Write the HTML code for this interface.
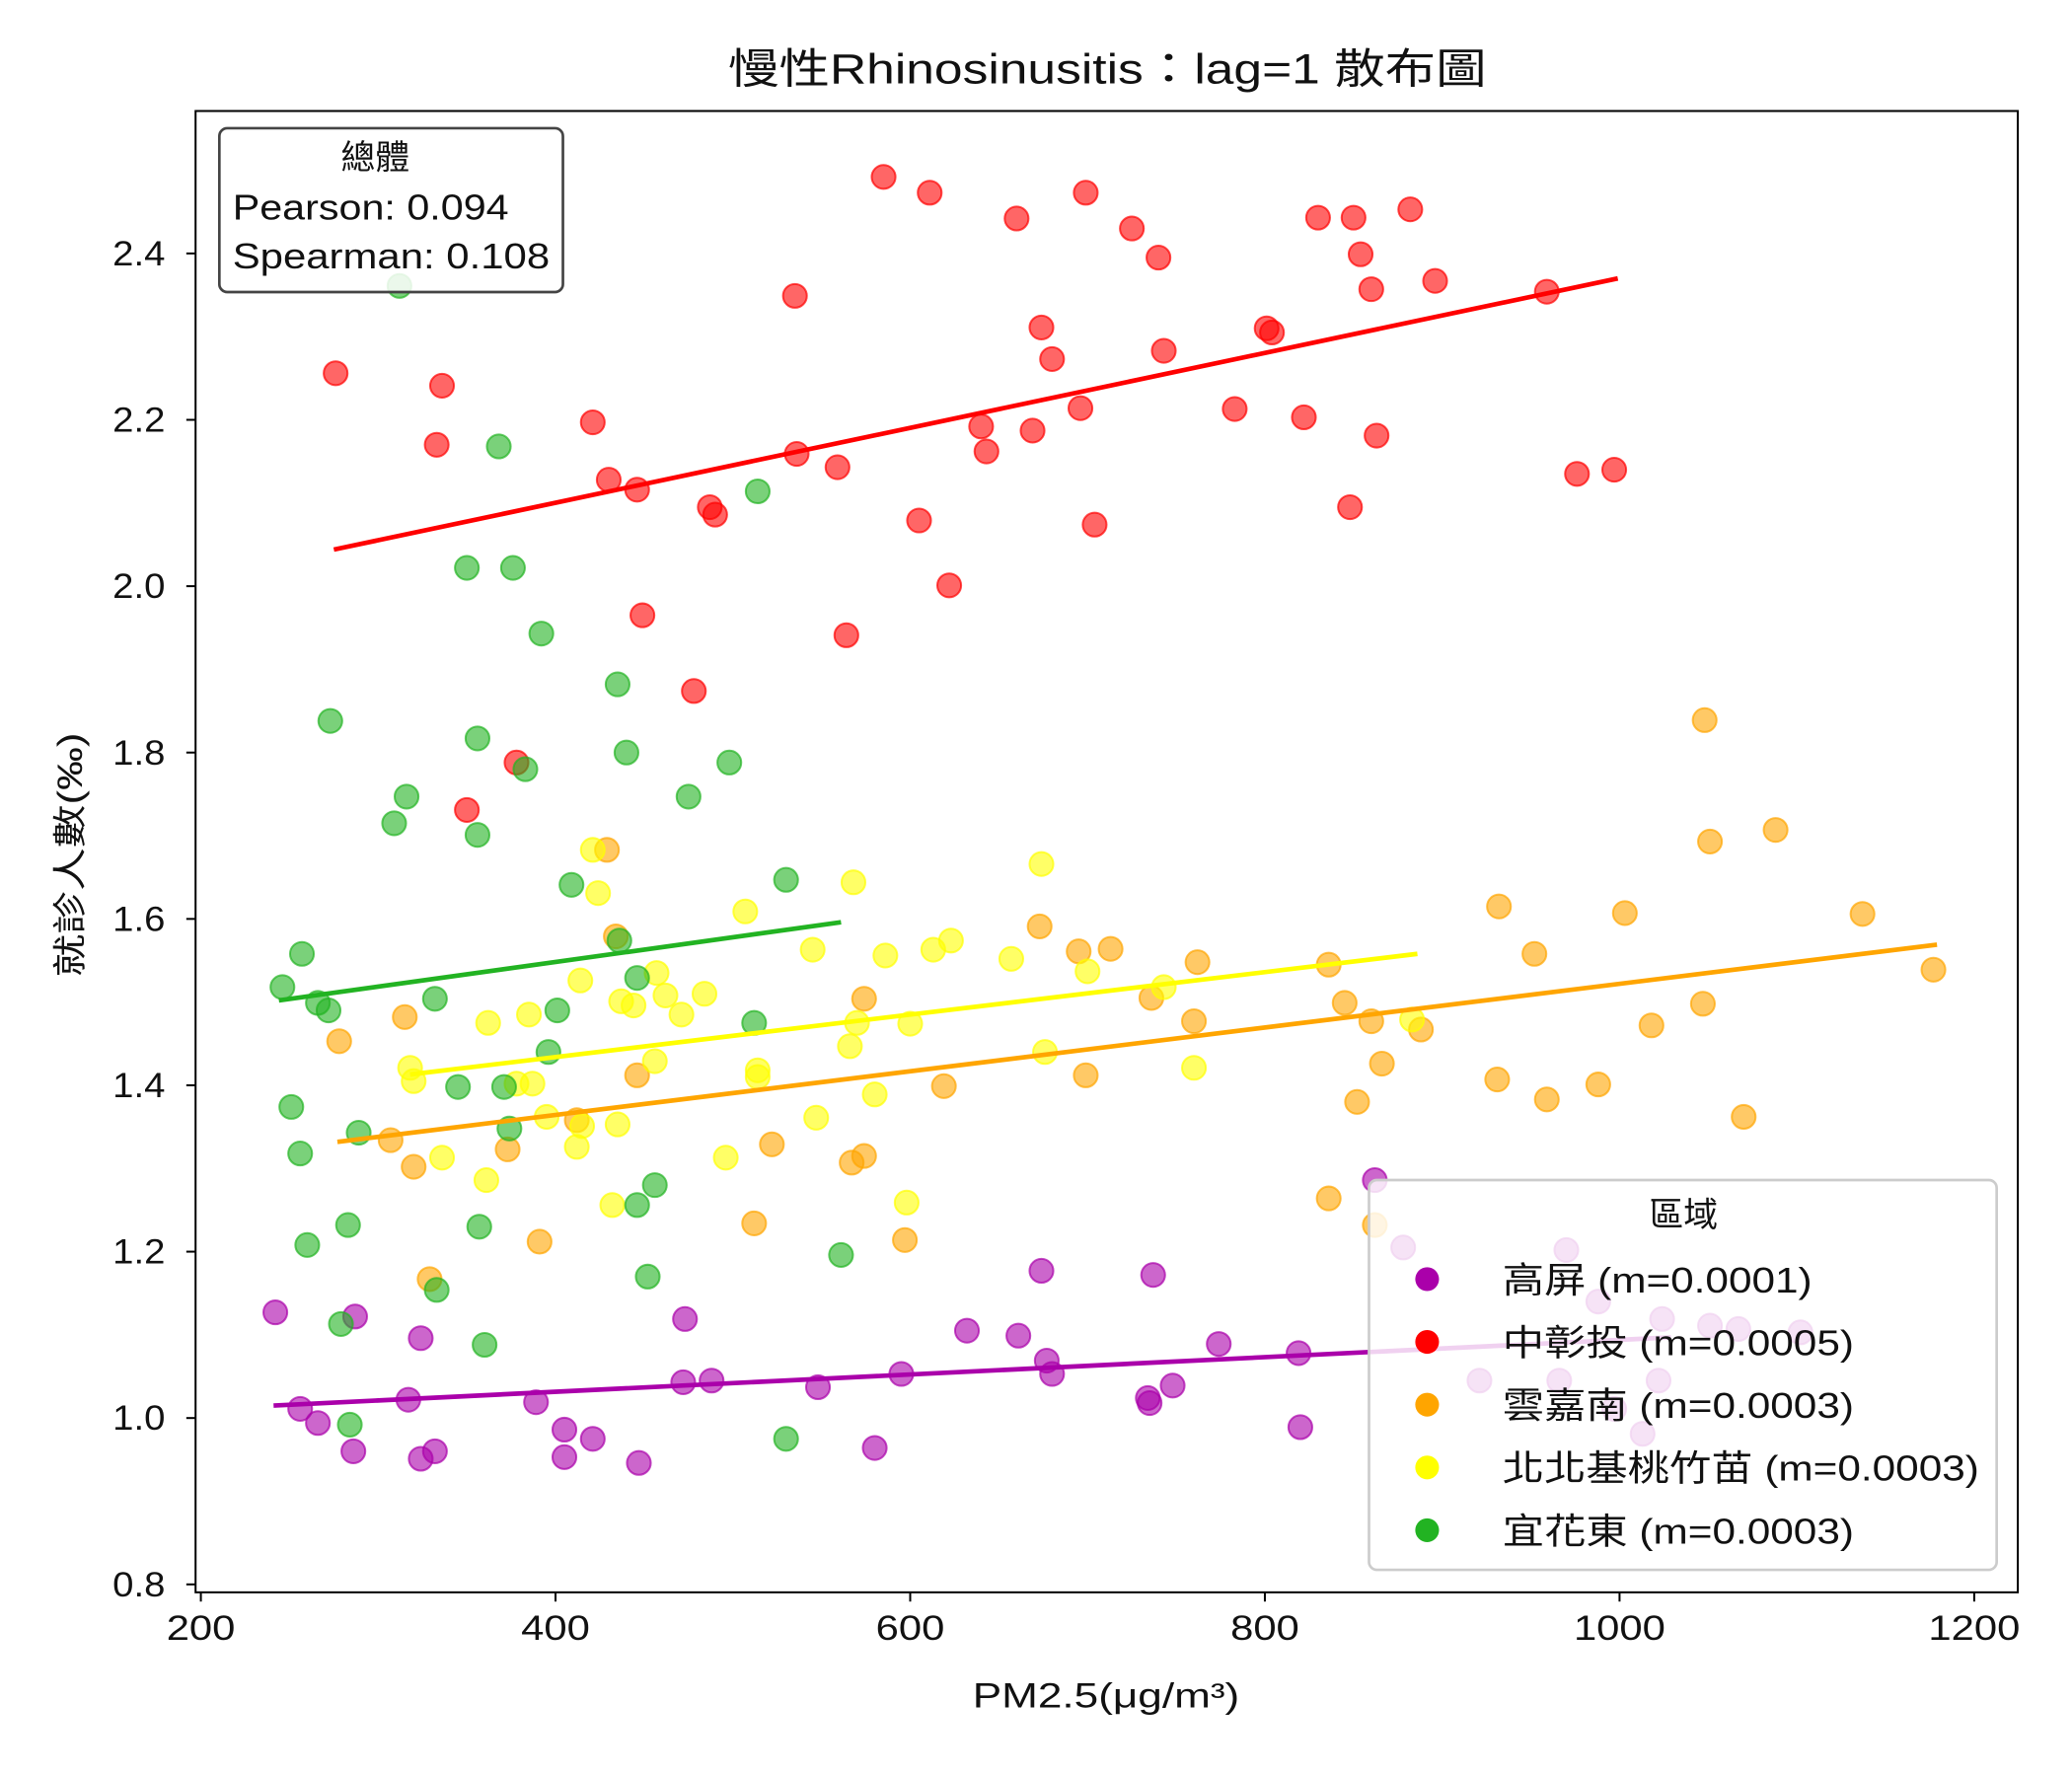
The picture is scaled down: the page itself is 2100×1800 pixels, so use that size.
<!DOCTYPE html>
<html><head><meta charset="utf-8"><style>
html,body{margin:0;padding:0;background:#fff}
svg{display:block}
text{font-family:"Liberation Sans","Noto Sans CJK TC",sans-serif;fill:#111}
</style></head><body>
<svg id="chart" width="2100" height="1800" viewBox="0 0 1568 1344" preserveAspectRatio="none" xmlns="http://www.w3.org/2000/svg">
<rect x="0" y="0" width="1568" height="1344" fill="#fff"/>
<text x="838" y="63" font-size="32" text-anchor="middle" textLength="574" lengthAdjust="spacingAndGlyphs">慢性Rhinosinusitis：lag=1 散布圖</text>
<g id="marks"></g>
<rect x="148" y="84" width="1379" height="1121" fill="none" stroke="#000" stroke-width="1.5"/>
<g id="axes"></g>
<text x="837" y="1292" font-size="26" text-anchor="middle" textLength="202" lengthAdjust="spacingAndGlyphs">PM2.5(μg/m³)</text>
<text transform="translate(62,647) rotate(-90)" font-size="26" text-anchor="middle" textLength="185" lengthAdjust="spacingAndGlyphs">就診人數(‰)</text>
<g>
<rect x="166" y="97" width="260" height="124" rx="6" fill="#fff" fill-opacity="0.85" stroke="#444" stroke-width="2"/>
<text x="284" y="128" font-size="26" text-anchor="middle">總體</text>
<text x="176" y="166" font-size="27" textLength="209" lengthAdjust="spacingAndGlyphs">Pearson: 0.094</text>
<text x="176" y="203" font-size="27" textLength="240" lengthAdjust="spacingAndGlyphs">Spearman: 0.108</text>
</g>
<g id="legend">
<rect x="1036" y="893" width="475" height="295" rx="6" fill="#fff" fill-opacity="0.82" stroke="#ccc" stroke-width="2"/>
<text x="1274" y="928" font-size="26" text-anchor="middle">區域</text>
</g>
</svg>
<script>
const xTicks=[200,400,600,800,1000,1200];
const yTicks=[0.8,1.0,1.2,1.4,1.6,1.8,2.0,2.2,2.4];
const regionNames=["高屏 (m=0.0001)","中彰投 (m=0.0005)","雲嘉南 (m=0.0003)","北北基桃竹苗 (m=0.0003)","宜花東 (m=0.0003)"];
const regionColors=["#aa00aa","#ff0000","#ffa500","#ffff00","#22b322"];
const purpleX=[242,287,324,317,256,266,286,324,332,389,405,405,421,447,473,472,488,548,580,595,632,661,674,677,680,734,735,737,748,774,819,820,862,878,921,970,988,966,997,1013,1022,1024,1051,1067,1102];
const purpleY=[1.127,1.122,1.096,1.022,1.011,0.994,0.960,0.951,0.960,1.019,0.986,0.953,0.975,0.946,1.119,1.043,1.045,1.037,0.964,1.053,1.105,1.099,1.177,1.069,1.053,1.024,1.018,1.172,1.039,1.089,1.078,0.989,1.286,1.205,1.045,1.202,1.140,1.045,1.011,0.981,1.045,1.119,1.111,1.107,1.103];
const redX=[276,336,333,421,430,446,449,487,490,478,378,350,535,536,559,564,585,611,605,622,640,643,660,674,680,669,696,699,704,725,740,743,783,801,804,822,830,850,854,860,863,848,882,896,959,976,997];
const redY=[2.256,2.241,2.170,2.197,2.128,2.116,1.965,2.095,2.086,1.874,1.788,1.731,2.349,2.159,2.143,1.941,2.492,2.473,2.079,2.001,2.192,2.162,2.442,2.311,2.273,2.187,2.214,2.473,2.074,2.430,2.395,2.283,2.213,2.310,2.305,2.203,2.443,2.443,2.399,2.357,2.181,2.095,2.453,2.367,2.354,2.135,2.140];
const orangeX=[429,434,673,695,713,762,836,932,952,1003,1048,1051,1088,1137,1177,574,736,760,845,860,866,888,852,931,959,988,1018,1047,1070,278,315,446,619,699,307,320,373,412,522,567,574,512,391,597,329,836,862];
const orangeY=[1.683,1.579,1.591,1.561,1.564,1.548,1.545,1.615,1.558,1.607,1.839,1.693,1.707,1.606,1.539,1.504,1.505,1.477,1.499,1.477,1.426,1.467,1.380,1.407,1.383,1.401,1.472,1.498,1.362,1.453,1.482,1.412,1.399,1.412,1.334,1.302,1.323,1.358,1.329,1.307,1.315,1.234,1.212,1.214,1.167,1.264,1.232];
const yellowX=[421,424,568,507,545,586,613,623,657,674,700,743,414,437,444,457,462,471,484,570,566,600,580,362,385,318,320,378,387,395,415,435,456,514,514,336,361,412,547,496,432,598,676,760,883];
const yellowY=[1.683,1.631,1.644,1.609,1.563,1.556,1.563,1.574,1.552,1.666,1.537,1.518,1.526,1.501,1.496,1.535,1.508,1.485,1.510,1.475,1.447,1.474,1.389,1.475,1.485,1.421,1.405,1.402,1.402,1.362,1.351,1.353,1.429,1.418,1.410,1.313,1.286,1.326,1.361,1.313,1.256,1.259,1.440,1.421,1.479];
const greenX=[312,368,350,376,392,435,273,356,440,383,498,316,475,309,356,409,530,514,257,246,266,272,332,436,446,401,396,512,251,345,371,374,289,256,456,446,260,283,357,333,452,561,279,360,284,530];
const greenY=[2.361,2.168,2.022,2.022,1.943,1.882,1.838,1.817,1.800,1.780,1.788,1.747,1.747,1.715,1.701,1.641,1.647,2.114,1.558,1.518,1.499,1.490,1.504,1.574,1.529,1.490,1.440,1.475,1.374,1.398,1.398,1.348,1.343,1.318,1.280,1.256,1.208,1.232,1.230,1.154,1.170,1.196,1.113,1.088,0.992,0.975];
const fitX0=[241,275,277,318,244];
const fitX1=[1029,999,1179,886,561];
const fitY0=[1.015,2.044,1.332,1.413,1.502];
const fitY1=[1.097,2.370,1.569,1.558,1.596];

const NS="http://www.w3.org/2000/svg";
function sx(v){return 152+(v-200)*1.342;}
function sy(v){return 1199-(v-0.8)*629.5;}
function mk(tag,attrs,parent){const e=document.createElementNS(NS,tag);for(const k in attrs)e.setAttribute(k,attrs[k]);parent.appendChild(e);return e;}
function widen(t,f){try{const w=t.getComputedTextLength();t.setAttribute('textLength',w*f);t.setAttribute('lengthAdjust','spacingAndGlyphs');}catch(e){}}
const marks=document.getElementById('marks');
const axes=document.getElementById('axes');
const series=[[purpleX,purpleY],[redX,redY],[orangeX,orangeY],[yellowX,yellowY],[greenX,greenY]];
series.forEach((s,i)=>{
  const g=mk('g',{},marks);
  
  
  s[0].forEach((x,j)=>{
    const c=mk('circle',{cx:sx(x),cy:sy(s[1][j]),r:9,fill:regionColors[i],'fill-opacity':0.6,stroke:regionColors[i],'stroke-opacity':0.7,'stroke-width':1.5},g);
    
    
  });
});
series.forEach((s,i)=>{
  const l=mk('line',{x1:sx(fitX0[i]),y1:sy(fitY0[i]),x2:sx(fitX1[i]),y2:sy(fitY1[i]),stroke:regionColors[i],'stroke-width':3.5},marks);
  
  
});
xTicks.forEach(t=>{
  const x=sx(t);
  mk('line',{x1:x,y1:1205,x2:x,y2:1212,stroke:'#000','stroke-width':1.5},axes);
  const tx=mk('text',{x:x,y:1241,'font-size':26,'text-anchor':'middle'},axes);
  tx.textContent=t;
  
  
  widen(tx,1.2);
});
yTicks.forEach(t=>{
  const y=sy(t);
  mk('line',{x1:141,y1:y,x2:148,y2:y,stroke:'#000','stroke-width':1.5},axes);
  const tx=mk('text',{x:125,y:y+9,'font-size':26,'text-anchor':'end'},axes);
  tx.textContent=t.toFixed(1);
  
  
  widen(tx,1.1);
});
const legend=document.getElementById('legend');
regionNames.forEach((n,i)=>{
  const y=968+i*47.5;
  const c=mk('circle',{cx:1080,cy:y,r:9,fill:regionColors[i]},legend);
  
  
  const t=mk('text',{x:1137,y:y+10,'font-size':27},legend);
  t.textContent=n;
  
  
  widen(t,1.17);
});
</script>
</body></html>
